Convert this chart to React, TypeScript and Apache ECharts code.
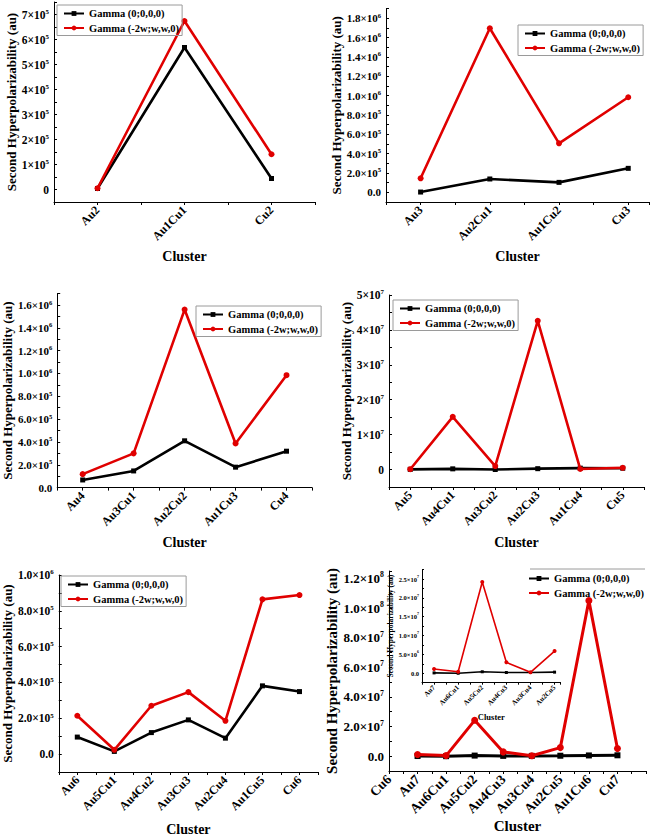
import React, { useEffect, useRef } from "react";
import * as echarts from "echarts";

const FONT = "'Liberation Serif', 'Times New Roman', serif";
const NAME0 = "Gamma (0;0,0,0)";
const NAMEW = "Gamma (-2w;w,w,0)";
const BLACK = "#000000";
const RED = "#e00000";

// Panel (a)
const cats1 = ["Au2", "Au1Cu1", "Cu2"];
const g0_1 = [4000, 568000, 44000];
const gw_1 = [5000, 674000, 141000];
// Panel (b)
const cats2 = ["Au3", "Au2Cu1", "Au1Cu2", "Cu3"];
const g0_2 = [3000, 138000, 103000, 248000];
const gw_2 = [145000, 1697000, 507000, 983000];
// Panel (c)
const cats3 = ["Au4", "Au3Cu1", "Au2Cu2", "Au1Cu3", "Cu4"];
const g0_3 = [67000, 146000, 410000, 179000, 319000];
const gw_3 = [118000, 300000, 1560000, 387000, 985000];
// Panel (d)
const cats4 = ["Au5", "Au4Cu1", "Au3Cu2", "Au2Cu3", "Au1Cu4", "Cu5"];
const g0_4 = [50000, 200000, 20000, 250000, 400000, 380000];
const gw_4 = [100000, 15100000, 1000000, 42600000, 150000, 500000];
// Panel (e)
const cats5 = ["Au6", "Au5Cu1", "Au4Cu2", "Au3Cu3", "Au2Cu4", "Au1Cu5", "Cu6"];
const g0_5 = [95000, 15000, 120000, 191000, 89000, 381000, 349000];
const gw_5 = [214000, 24000, 270000, 346000, 186000, 864000, 888000];
// Panel (f)
const cats6 = ["Cu6", "Au7", "Au6Cu1", "Au5Cu2", "Au4Cu3", "Au3Cu4", "Au2Cu5", "Au1Cu6", "Cu7"];
const g0_6 = [100000, 0, 400000, 200000, 200000, 300000, 500000, 600000];
const gw_6 = [1140000, 400000, 24200000, 2900000, 260000, 5800000, 105000000, 5200000];
// Inset of panel (f)
const catsInset = ["Au7", "Au6Cu1", "Au5Cu2", "Au4Cu3", "Au3Cu4", "Au2Cu5"];
const g0_inset = [100000, 0, 400000, 200000, 200000, 300000];
const gw_inset = [1140000, 400000, 24200000, 2900000, 260000, 5900000];

type Panel = {
  cats: string[]; g0: number[]; gw: number[]; xoff: number;
  left: number; top: number; width: number; height: number;
  xmin: number; xmax: number; ymin: number; ymax: number; yint: number; ystep: number;
  dec: number; zero: string; nameGap: number; cGap: number;
  fs: number; xfs: number; nfs: number; cfs: number; lw: number; sym: number; inset?: boolean;
};

const panels: Panel[] = [
  { cats: cats1, g0: g0_1, gw: gw_1, xoff: 0, left: 54, top: 2, width: 261, height: 200,
    xmin: -0.5, xmax: 2.5, ymin: -50000, ymax: 750000, yint: 50000, ystep: 100000,
    dec: 0, zero: "0", nameGap: 25, cGap: 47, fs: 11.5, xfs: 12, nfs: 13, cfs: 14, lw: 2.6, sym: 5 },
  { cats: cats2, g0: g0_2, gw: gw_2, xoff: 0, left: 386, top: 8.6, width: 263, height: 193.4,
    xmin: -0.5, xmax: 3.3, ymin: -100000, ymax: 1900000, yint: 100000, ystep: 200000,
    dec: 1, zero: "0.0", nameGap: 31, cGap: 47, fs: 11, xfs: 12, nfs: 13, cfs: 14, lw: 2.6, sym: 5 },
  { cats: cats3, g0: g0_3, gw: gw_3, xoff: 0, left: 53, top: 293.6, width: 259, height: 194,
    xmin: -0.5, xmax: 4.5, ymin: 0, ymax: 1700000, yint: 100000, ystep: 200000,
    dec: 1, zero: "0.0", nameGap: 32, cGap: 48, fs: 11, xfs: 12, nfs: 13, cfs: 14, lw: 2.6, sym: 5 },
  { cats: cats4, g0: g0_4, gw: gw_4, xoff: 0, left: 389, top: 295, width: 255, height: 192,
    xmin: -0.5, xmax: 5.5, ymin: -5000000, ymax: 50000000, yint: 5000000, ystep: 10000000,
    dec: 0, zero: "0", nameGap: 24, cGap: 48, fs: 11.5, xfs: 12, nfs: 13, cfs: 14, lw: 2.6, sym: 5 },
  { cats: cats5, g0: g0_5, gw: gw_5, xoff: 0, left: 54, top: 575, width: 264, height: 197,
    xmin: -0.5, xmax: 6.5, ymin: -100000, ymax: 1000000, yint: 100000, ystep: 200000,
    dec: 1, zero: "0.0", nameGap: 36, cGap: 50, fs: 11.5, xfs: 12, nfs: 13, cfs: 14, lw: 2.6, sym: 5 },
  { cats: cats6, g0: g0_6, gw: gw_6, xoff: 1, left: 389, top: 571, width: 257, height: 200,
    xmin: 0, xmax: 9, ymin: -10000000, ymax: 125000000, yint: 10000000, ystep: 20000000,
    dec: 1, zero: "0.0", nameGap: 22, cGap: 47, fs: 13, xfs: 13.5, nfs: 15, cfs: 15, lw: 3, sym: 6 },
  { cats: catsInset, g0: g0_inset, gw: gw_inset, xoff: 0, left: 422, top: 569.6, width: 138.6, height: 113.1,
    xmin: -0.5, xmax: 5.25, ymin: -2500000, ymax: 27500000, yint: 2500000, ystep: 5000000,
    dec: 1, zero: "0.0", nameGap: 23, cGap: 30, fs: 6.5, xfs: 7, nfs: 7.5, cfs: 8.5, lw: 1.6, sym: 3, inset: true },
];

function supFormatter(step: number, dec: number, zero: string) {
  return (v: number) => {
    if (v < -1e-9) return "";
    const r = v / step;
    if (Math.abs(r - Math.round(r)) > 1e-6) return "";
    if (Math.abs(v) < 1e-9) return `{m|${zero}}`;
    const e = Math.floor(Math.log10(v) + 1e-9);
    const m = v / Math.pow(10, e);
    return `{m|${m.toFixed(dec)}×10}{s|${e}}`;
  };
}

function buildOption() {
  const grid: any[] = [];
  const xAxis: any[] = [];
  const yAxis: any[] = [];
  const series: any[] = [];
  panels.forEach((p, i) => {
    grid.push({ left: p.left, top: p.top, width: p.width, height: p.height, containLabel: false });
    const bold = { fontFamily: FONT, fontWeight: "bold", color: "#000" };
    xAxis.push({
      type: "value", gridIndex: i, min: p.xmin, max: p.xmax, interval: 0.5,
      axisLine: { show: true, onZero: false, lineStyle: { color: "#000", width: 1 } },
      axisTick: { show: true, inside: false, length: p.inset ? 2 : 3, lineStyle: { color: "#000" } },
      splitLine: { show: false },
      axisLabel: {
        rotate: 45, margin: p.inset ? 4 : 6, showMinLabel: true, showMaxLabel: true,
        fontSize: p.xfs, ...bold,
        formatter: (v: number) => {
          const k = Math.round(v);
          if (Math.abs(v - k) > 1e-6) return "";
          return p.cats[k] ?? "";
        },
      },
      name: "Cluster", nameLocation: "middle", nameGap: p.cGap,
      nameTextStyle: { fontSize: p.cfs, ...bold },
    });
    yAxis.push({
      type: "value", gridIndex: i, min: p.ymin, max: p.ymax, interval: p.yint,
      axisLine: { show: true, onZero: false, lineStyle: { color: "#000", width: 1 } },
      axisTick: { show: true, inside: true, length: p.inset ? 2 : 3, lineStyle: { color: "#000" } },
      splitLine: { show: false },
      axisLabel: {
        margin: p.inset ? 3 : 5, showMinLabel: true, showMaxLabel: true,
        formatter: supFormatter(p.ystep, p.dec, p.zero),
        rich: {
          m: { fontSize: p.fs, lineHeight: p.fs + 2, ...bold },
          s: { fontSize: p.fs * 0.6, lineHeight: p.fs + 2, verticalAlign: "top", ...bold },
        },
      },
      name: "Second Hyperpolarizability (au)", nameLocation: "middle", nameGap: p.nameGap,
      nameTextStyle: { fontSize: p.nfs, ...bold },
    });
    const mk = (vals: number[]) => vals.map((v, k) => [k + p.xoff, v]);
    const suffix = p.inset ? " inset" : "";
    series.push({
      type: "line", name: NAME0 + suffix, xAxisIndex: i, yAxisIndex: i, data: mk(p.g0),
      symbol: "rect", symbolSize: p.sym, showSymbol: true,
      lineStyle: { color: BLACK, width: p.lw }, itemStyle: { color: BLACK }, z: 2,
    });
    series.push({
      type: "line", name: NAMEW + suffix, xAxisIndex: i, yAxisIndex: i, data: mk(p.gw),
      symbol: "circle", symbolSize: p.sym + 1, showSymbol: true,
      lineStyle: { color: RED, width: p.lw }, itemStyle: { color: RED }, z: 3,
    });
  });

  const legendPos = [
    { left: 57, top: 5, border: true },
    { left: 518, top: 25, border: true },
    { left: 196, top: 306, border: true },
    { left: 393, top: 300, border: true },
    { left: 61, top: 576, border: true },
    { left: 522, top: 570, border: false },
  ];
  const legend = legendPos.map((l) => ({
    data: [NAME0, NAMEW], left: l.left, top: l.top, orient: "vertical",
    itemWidth: 20, itemHeight: 6, itemGap: 1.5, padding: [2, 3, 1, 6],
    borderColor: l.border ? "#9a9a9a" : "transparent", borderWidth: l.border ? 1 : 0,
    selectedMode: false,
    textStyle: { fontFamily: FONT, fontWeight: "bold", fontSize: 10.5, lineHeight: 13, color: "#000" },
  }));

  return {
    animation: false,
    backgroundColor: "#ffffff",
    grid, xAxis, yAxis, series, legend,
    graphic: [
      { type: "line", shape: { x1: 530, y1: 569, x2: 645, y2: 569 }, style: { stroke: "#9a9a9a", lineWidth: 1 } },
    ],
  };
}

export default function App() {
  const ref = useRef<HTMLDivElement>(null);
  useEffect(() => {
    document.body.style.margin = "0";
    const chart = echarts.init(ref.current!, null, { renderer: "svg" });
    chart.setOption(buildOption() as any);
    return () => chart.dispose();
  }, []);
  return (
    <div
      ref={ref}
      style={{ position: "fixed", left: 0, top: 0, width: 652, height: 837, background: "#fff" }}
    />
  );
}
